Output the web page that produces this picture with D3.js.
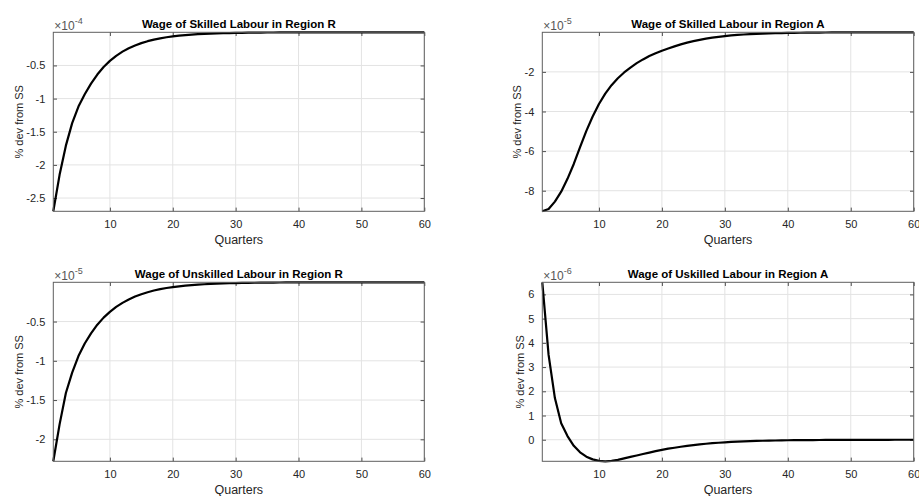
<!DOCTYPE html>
<html>
<head>
<meta charset="utf-8">
<script src="https://cdn.jsdelivr.net/npm/d3@7"></script>
<style>
  html, body { margin: 0; padding: 0; background: #ffffff; }
  svg { display: block; }
  text { font-family: "Liberation Sans", Arial, Helvetica, sans-serif; }
</style>
</head>
<body>
<svg id="chart" width="919" height="496"></svg>
<script>
// ---- Data (values in units of the axis exponent) ----
const titles = [
  "Wage of Skilled Labour in Region R",
  "Wage of Skilled Labour in Region A",
  "Wage of Unskilled Labour in Region R",
  "Wage of Uskilled Labour in Region A"
];
const exponents = [-4, -5, -5, -6];
const xTicks = [10, 20, 30, 40, 50, 60];
const yTicksSkilledR = [-2.5, -2, -1.5, -1, -0.5];
const yTicksSkilledA = [-8, -6, -4, -2];
const yTicksUnskilledR = [-2, -1.5, -1, -0.5];
const yTicksUnskilledA = [0, 1, 2, 3, 4, 5, 6];

const skilledR = [-2.70, -2.15, -1.71, -1.37, -1.12, -0.935, -0.774, -0.637, -0.524, -0.431,
  -0.355, -0.292, -0.240, -0.198, -0.163, -0.134, -0.110, -0.091, -0.075, -0.062,
  -0.051, -0.042, -0.034, -0.028, -0.023, -0.019, -0.016, -0.013, -0.011, -0.009,
  -0.0073, -0.006, -0.005, -0.0041, -0.0034, -0.0028, -0.0023, -0.0019, -0.0015, -0.0013,
  -0.001, -0.0009, -0.0007, -0.0006, -0.0005, -0.0004, -0.0003, -0.0003, -0.0002, -0.0002,
  -0.0002, -0.0001, -0.0001, -0.0001, -0.0001, -0.0001, -0.0001, -0.00005, -0.00005, -0.00005];

const skilledA = [-9.04, -8.92, -8.55, -8.05, -7.4, -6.65, -5.8, -4.98, -4.25, -3.62,
  -3.1, -2.67, -2.32, -2.03, -1.78, -1.56, -1.37, -1.2, -1.06, -0.93,
  -0.82, -0.71, -0.61, -0.52, -0.45, -0.38, -0.32, -0.27, -0.23, -0.19,
  -0.16, -0.135, -0.113, -0.095, -0.08, -0.067, -0.056, -0.047, -0.039, -0.033,
  -0.027, -0.023, -0.019, -0.016, -0.013, -0.011, -0.009, -0.0075, -0.006, -0.005,
  -0.004, -0.0035, -0.003, -0.0025, -0.002, -0.0017, -0.0014, -0.0012, -0.001, -0.0008];

const unskilledR = [-2.28, -1.81, -1.41, -1.15, -0.94, -0.78, -0.65, -0.54, -0.45, -0.377,
  -0.314, -0.262, -0.219, -0.182, -0.152, -0.127, -0.105, -0.088, -0.073, -0.061,
  -0.051, -0.042, -0.035, -0.029, -0.025, -0.02, -0.017, -0.014, -0.012, -0.01,
  -0.0083, -0.0069, -0.0058, -0.0048, -0.004, -0.0033, -0.0028, -0.0023, -0.0019, -0.0016,
  -0.0013, -0.0011, -0.0009, -0.0008, -0.0006, -0.0005, -0.0004, -0.0004, -0.0003, -0.0003,
  -0.0002, -0.0002, -0.0002, -0.0001, -0.0001, -0.0001, -0.0001, -0.0001, -0.0001, -0.0001];

const unskilledA = [6.5, 3.5, 1.72, 0.68, 0.15, -0.25, -0.52, -0.7, -0.81, -0.87,
  -0.89, -0.87, -0.83, -0.77, -0.71, -0.65, -0.59, -0.53, -0.47, -0.42,
  -0.37, -0.33, -0.29, -0.25, -0.22, -0.19, -0.165, -0.143, -0.123, -0.106,
  -0.091, -0.078, -0.067, -0.057, -0.049, -0.042, -0.036, -0.031, -0.026, -0.022,
  -0.019, -0.016, -0.014, -0.012, -0.01, -0.0085, -0.007, -0.006, -0.005, -0.0043,
  -0.0036, -0.003, -0.0026, -0.0022, -0.0018, -0.0015, -0.0013, -0.0011, -0.0009, -0.0008];

const seriesList = [skilledR, skilledA, unskilledR, unskilledA];
const yTickList = [yTicksSkilledR, yTicksSkilledA, yTicksUnskilledR, yTicksUnskilledA];

// ---- Layout ----
const panels = [
  { left: 53.3, top: 32.3, width: 371, height: 179, ylabelX: 19 },
  { left: 542.3, top: 32.3, width: 371.4, height: 179, ylabelX: 516.7 },
  { left: 53.3, top: 282.3, width: 371, height: 179, ylabelX: 19 },
  { left: 542.3, top: 282.3, width: 371.4, height: 179, ylabelX: 520 }
];

const svg = d3.select("#chart");
const axisColor = "#262626";
const boxColor = "#5e5e5e";
const gridColor = "#e3e3e3";
const tickLen = 3.7;

panels.forEach((p, i) => {
  const data = seriesList[i].map((v, k) => ({ q: k + 1, v: v }));
  const x = d3.scaleLinear().domain([1, data.length]).range([p.left, p.left + p.width]);
  const ext = d3.extent(data, d => d.v);
  const y = d3.scaleLinear().domain(ext).range([p.top + p.height, p.top]);
  const yT = yTickList[i];
  const g = svg.append("g");

  // grid
  g.append("g").selectAll("line").data(xTicks).join("line")
    .attr("x1", d => x(d)).attr("x2", d => x(d))
    .attr("y1", p.top).attr("y2", p.top + p.height)
    .attr("stroke", gridColor).attr("stroke-width", 1);
  g.append("g").selectAll("line").data(yT).join("line")
    .attr("x1", p.left).attr("x2", p.left + p.width)
    .attr("y1", d => y(d)).attr("y2", d => y(d))
    .attr("stroke", gridColor).attr("stroke-width", 1);

  // axes (ticks inward)
  const xAxis = d3.axisBottom(x).tickValues(xTicks).tickSizeInner(-tickLen).tickSizeOuter(0)
    .tickPadding(9).tickFormat(d3.format("d"));
  const gx = g.append("g").attr("transform", `translate(0,${p.top + p.height})`).call(xAxis);
  gx.select(".domain").remove();
  gx.selectAll(".tick line").attr("stroke", axisColor).attr("stroke-width", 0.8);
  gx.selectAll(".tick text").attr("fill", axisColor).attr("font-size", "11px")
    .attr("font-family", "Liberation Sans, Arial, sans-serif");

  const yAxis = d3.axisLeft(y).tickValues(yT).tickSizeInner(-tickLen).tickSizeOuter(0)
    .tickPadding(8).tickFormat(d => String(d));
  const gy = g.append("g").attr("transform", `translate(${p.left},0)`).call(yAxis);
  gy.select(".domain").remove();
  gy.selectAll(".tick line").attr("stroke", axisColor).attr("stroke-width", 0.8);
  gy.selectAll(".tick text").attr("fill", axisColor).attr("font-size", "11px")
    .attr("font-family", "Liberation Sans, Arial, sans-serif");

  // top and right box ticks
  const gt = g.append("g").attr("transform", `translate(0,${p.top})`)
    .call(d3.axisTop(x).tickValues(xTicks).tickSizeInner(-tickLen).tickSizeOuter(0).tickFormat(""));
  gt.select(".domain").remove();
  gt.selectAll(".tick line").attr("stroke", axisColor).attr("stroke-width", 0.8);
  const gr = g.append("g").attr("transform", `translate(${p.left + p.width},0)`)
    .call(d3.axisRight(y).tickValues(yT).tickSizeInner(-tickLen).tickSizeOuter(0).tickFormat(""));
  gr.select(".domain").remove();
  gr.selectAll(".tick line").attr("stroke", axisColor).attr("stroke-width", 0.8);

  // curve
  const line = d3.line().x(d => x(d.q)).y(d => y(d.v)).curve(d3.curveLinear);
  g.append("path").datum(data).attr("d", line)
    .attr("fill", "none").attr("stroke", "#000").attr("stroke-width", 2.2)
    .attr("stroke-linejoin", "round");

  // box
  g.append("rect").attr("x", p.left).attr("y", p.top)
    .attr("width", p.width).attr("height", p.height)
    .attr("fill", "none").attr("stroke", boxColor).attr("stroke-width", 1);

  // title
  g.append("text").attr("x", p.left + p.width / 2).attr("y", p.top - 4.5)
    .attr("text-anchor", "middle").attr("font-size", "11.5px").attr("font-weight", "bold")
    .attr("fill", "#000").text(titles[i]);

  // exponent label
  const ex = g.append("text").attr("x", p.left + 1).attr("y", p.top - 2.5)
    .attr("font-size", "12px").attr("fill", "#555");
  ex.append("tspan").text("\u00d710");
  ex.append("tspan").attr("dy", "-5.5").attr("font-size", "9px").text(String(exponents[i]));

  // x label
  g.append("text").attr("x", p.left + p.width / 2).attr("y", p.top + p.height + 33)
    .attr("text-anchor", "middle").attr("font-size", "12.5px").attr("fill", axisColor)
    .text("Quarters");

  // y label
  g.append("text")
    .attr("transform", `translate(${p.ylabelX},${p.top + p.height / 2}) rotate(-90)`)
    .attr("text-anchor", "middle").attr("dy", "0.35em")
    .attr("font-size", "11px").attr("fill", axisColor)
    .text("% dev from SS");
});
</script>
</body>
</html>
